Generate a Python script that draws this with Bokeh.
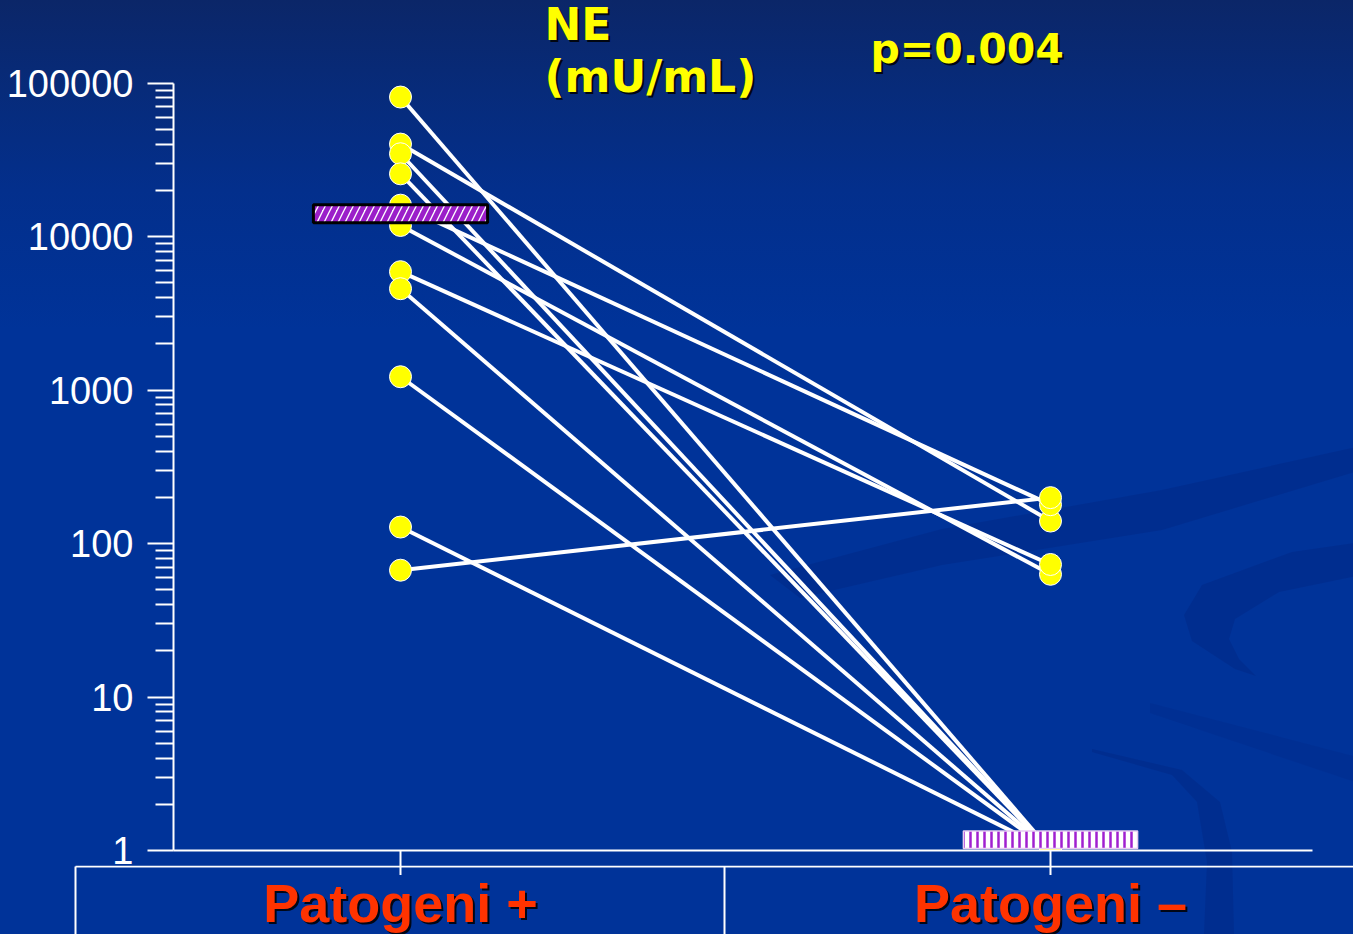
import base64
from bokeh.plotting import figure
from bokeh.layouts import column
from bokeh.models import Range1d, FixedTicker, Label, ColumnDataSource
from bokeh.embed import file_html
from bokeh.resources import INLINE
from bokeh.core.properties import value

# ---------------- data ----------------
groups = ["Patogeni +", "Patogeni \u2013"]
ne_pos = [81000, 40000, 34600, 25600, 16000, 11800, 5900, 4570, 1220, 128, 67]
ne_neg = [1, 140, 1, 1, 179, 63, 73, 1, 1, 1, 199]
median_low = [12300, 1.03]
median_high = [16100, 1.34]
y_ticks = [1, 10, 100, 1000, 10000, 100000]
y_tick_labels = ["1", "10", "100", "1000", "10000", "100000"]
title_lines = ["NE", "(mU/mL)"]
p_text = "p=0.004"

# ---------------- geometry ----------------
W = 1353
FL, FB = 173, 25
FH = 850
H_TOP = FH + FB
OVERLAP = 10
H_BOT = 934 - H_TOP + OVERLAP
FW = W - FL
DEC = 153.5                  # px per decade
UNIT = 650.0                 # px per category step
X0 = 1 - (400 - FL) / UNIT
X1 = X0 + FW / UNIT
Y_END = 10 ** (FH / DEC)


def px_x(px):
    return X0 + (px - FL) / UNIT


def px_y(py):
    return 10 ** ((FH - py) / DEC)


# ---------------- background (CSS) ----------------
swoosh = """<svg xmlns='http://www.w3.org/2000/svg' width='1353' height='934'>
<g fill='rgb(0,33,118)' fill-opacity='0.28'>
<path d='M 770 575 L 942 529 L 1162 490 L 1361 446 L 1361 470 L 1162 530 L 942 565 L 800 598 Z'/>
<path d='M 1361 542 L 1292 552 L 1202 585 L 1184 615 L 1192 641 L 1235 669 L 1256 676 L 1239 659 L 1229 639 L 1235 619 L 1279 592 L 1361 575 Z'/>
<path d='M 1092 752 L 1172 775 L 1197 802 L 1207 862 L 1204 934 L 1234 934 L 1232 852 L 1220 802 L 1182 770 L 1092 749 Z'/>
</g>
<path fill='rgb(0,33,118)' fill-opacity='0.16' d='M 1150 703 L 1361 758 L 1361 784 L 1150 713 Z'/>
</svg>"""
bg_css = ("url(data:image/svg+xml;base64," + base64.b64encode(swoosh.encode()).decode() +
          ") no-repeat, linear-gradient(to bottom, rgb(11,38,104) 0px, rgb(7,43,122) 90px, "
          "rgb(3,47,140) 190px, rgb(0,51,153) 330px, rgb(0,51,153) 100%)")

# ---------------- main figure ----------------
p = figure(width=W, height=H_TOP, y_axis_type="log",
           x_range=Range1d(X0, X1), y_range=Range1d(1, Y_END),
           output_backend="svg", toolbar_location=None,
           min_border_left=FL, min_border_right=0, min_border_top=0,
           min_border_bottom=FB)
p.background_fill_alpha = 0
p.border_fill_alpha = 0
p.outline_line_color = None
p.xgrid.visible = False
p.ygrid.visible = False

yax = p.yaxis[0]
yax.ticker = FixedTicker(ticks=y_ticks,
                         minor_ticks=[m * 10 ** d for d in range(5) for m in range(2, 10)])
yax.major_label_overrides = {t: l for t, l in zip(y_ticks, y_tick_labels)}
yax.bounds = (1, 100000)
yax.axis_line_color = "white"
yax.axis_line_width = 2
yax.major_tick_line_color = "white"
yax.major_tick_line_width = 2
yax.major_tick_out = 26
yax.major_tick_in = 0
yax.minor_tick_line_color = "white"
yax.minor_tick_line_width = 2
yax.minor_tick_out = 18
yax.minor_tick_in = 0
yax.major_label_text_color = "white"
yax.major_label_text_font = "Liberation Sans"
yax.major_label_text_font_size = "38px"
yax.major_label_standoff = 14

xax = p.xaxis[0]
xax.ticker = FixedTicker(ticks=[1, 2], minor_ticks=[])
xax.major_label_overrides = {1: "", 2: ""}
xax.major_label_text_font_size = "0px"
xax.major_label_standoff = 0
xax.bounds = (X0, 2 + (1312 - 1050) / UNIT)
xax.axis_line_color = "white"
xax.axis_line_width = 2
xax.major_tick_line_color = "white"
xax.major_tick_line_width = 2
xax.major_tick_out = FB
xax.major_tick_in = 0
xax.minor_tick_line_color = None

n = len(ne_pos)
src = ColumnDataSource(dict(x0=[1] * n, y0=ne_pos, x1=[2] * n, y1=ne_neg))
p.segment(x0="x0", y0="y0", x1="x1", y1="y1", source=src, line_color="white", line_width=4)
p.scatter(x=[1] * n + [2] * n, y=ne_pos + ne_neg, size=22, fill_color="#ffff00",
          line_color="white", line_width=1)

bw = 0.134
p.quad(left=[1 - bw], right=[1 + bw], bottom=[median_low[0]], top=[median_high[0]],
       fill_color="white", hatch_pattern="/", hatch_color="#9b1fc9", hatch_scale=14,
       hatch_weight=5, line_color="black", line_width=3)
p.quad(left=[2 - bw], right=[2 + bw], bottom=[median_low[1]], top=[median_high[1]],
       fill_color="white", hatch_pattern="|", hatch_color="#a020d0", hatch_scale=7,
       hatch_weight=2.5, line_color="#e6ccf2", line_width=1.5)


def shadow_label(xpx, ypx, text, size):
    p.add_layout(Label(x=px_x(xpx + 2), y=px_y(ypx + 2), text=text, text_font="DejaVu Sans",
                       text_font_style="bold", text_font_size=size, text_color="black",
                       text_alpha=0.85, text_align="left", text_baseline="alphabetic"))
    p.add_layout(Label(x=px_x(xpx), y=px_y(ypx), text=text, text_font="DejaVu Sans",
                       text_font_style="bold", text_font_size=size, text_color="#ffff00",
                       text_align="left", text_baseline="alphabetic"))


shadow_label(544, 24, title_lines[0], "44px")
shadow_label(544, 76, title_lines[1], "44px")
shadow_label(870, 48, p_text, "41px")

# ---------------- category strip (table below the axis) ----------------
b = figure(width=W, height=H_BOT, x_range=Range1d(1 - 400 / UNIT, 1 + (W - 400) / UNIT),
           y_range=Range1d(H_BOT, 0), x_axis_location=None, y_axis_location=None,
           output_backend="svg", toolbar_location=None,
           min_border_left=0, min_border_right=0, min_border_top=0, min_border_bottom=0)
b.background_fill_alpha = 0
b.border_fill_alpha = 0
b.outline_line_color = None
b.xgrid.visible = False
b.ygrid.visible = False
b.styles = {"margin-top": "-%dpx" % OVERLAP}
for fig in (p, b):
    if "frame_align" in fig.properties():
        fig.frame_align = False


def bx(px):
    return 1 + (px - 400) / UNIT


b.segment(x0=[bx(75), bx(75), bx(724)], y0=[1, 1, 1], x1=[bx(1400), bx(75), bx(724)],
          y1=[1, 100, 100], line_color="white", line_width=2)
gx = [i + 1 for i in range(len(groups))]
b.text(x=gx, y=[39, 39], x_offset=2, text=groups, text_font=value("Liberation Sans"),
       text_font_style="bold", text_font_size="54px", text_color="black", text_alpha=0.85,
       text_align="center", text_baseline="alphabetic")
b.text(x=gx, y=[37, 37], text=groups, text_font=value("Liberation Sans"),
       text_font_style="bold", text_font_size="54px", text_color="#ff3300",
       text_align="center", text_baseline="alphabetic")

layout = column(p, b, spacing=0, styles={"background": bg_css})

open("out.html", "w").write(file_html(layout, INLINE))
